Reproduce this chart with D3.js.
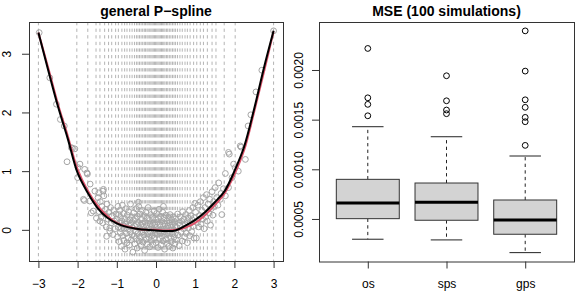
<!DOCTYPE html>
<html>
<head>
<meta charset="utf-8">
<script src="https://cdn.jsdelivr.net/npm/d3@7"></script>
<style>
  body { margin: 0; background: #fff; }
  svg { display: block; font-family: "Liberation Sans", Arial, Helvetica, sans-serif; }
</style>
</head>
<body>
<svg id="chart" width="581" height="291"></svg>
<script>
'use strict'

// ---- left panel data ----
var knots = [-3, -2.02, -1.74, -1.53, -1.43, -1.31, -1.21, -1.13, -1.03, -0.96, -0.87, -0.80, -0.74, -0.67,
    -0.61, -0.55, -0.50, -0.46, -0.42, -0.38, -0.34, -0.30, -0.27, -0.23, -0.20, -0.16, -0.13, -0.10, -0.07,
    -0.04, -0.01, 0.02, 0.05, 0.08, 0.11, 0.14, 0.17, 0.20, 0.23, 0.27, 0.30, 0.34, 0.38, 0.42, 0.46, 0.50,
    0.55, 0.61, 0.67, 0.74, 0.80, 0.87, 0.96, 1.04, 1.13, 1.21, 1.31, 1.43, 1.53, 1.74, 2.02, 3];

var curveX = [-3, -2.75, -2.5, -2.25, -2, -1.75, -1.5, -1.25, -1, -0.75, -0.5, -0.25, 0, 0.25, 0.5, 0.75,
    1, 1.25, 1.5, 1.75, 2, 2.25, 2.5, 2.75, 3];
var trueY = [3.36, 2.76, 2.14, 1.6, 1.03, 0.68, 0.42, 0.24, 0.12, 0.06, 0.02, 0, 0, -0.01, 0, 0.04,
    0.12, 0.25, 0.42, 0.62, 0.94, 1.36, 2.0, 2.68, 3.38];
var fitY = [3.36, 2.72, 2.10, 1.55, 0.97, 0.64, 0.38, 0.21, 0.11, 0.05, 0.02, 0, -0.01, -0.02, -0.01, 0.07,
    0.17, 0.30, 0.47, 0.66, 1.0, 1.42, 2.05, 2.75, 3.39];

var points = [
    [-2.98, 3.36], [-2.71, 2.59], [-2.54, 2.14], [-2.44, 1.88], [-2.34, 1.77], [-2.27, 1.16], [-2.16, 1.40],
    [-2.07, 1.38], [-2.13, 1.39], [-2.0, 0.89], [-1.99, 1.06], [-1.94, 1.12], [-1.82, 1.03], [-1.76, 0.97],
    [-1.75, 0.95], [-1.83, 0.50], [-1.85, 0.52], [-1.69, 0.49], [-1.68, 0.78], [-1.56, 0.66], [-1.46, 0.63],
    [-1.35, 0.66], [-1.34, 0.69], [-1.65, 0.29], [-1.60, 0.32], [-1.52, 0.20], [-1.43, 0.15], [-1.26, -0.11],
    [-1.18, 0.03],
    [-1.48, 0.55], [-1.45, 0.31], [-1.42, 0.48], [-1.40, 0.22], [-1.38, 0.40], [-1.36, 0.12], [-1.33, 0.58],
    [-1.31, 0.27], [-1.29, 0.35], [-1.27, 0.05], [-1.25, 0.44], [-1.22, 0.18], [-1.20, 0.30], [-1.18, -0.02],
    [-1.16, 0.38], [-1.14, 0.12], [-1.12, 0.24], [-1.10, -0.08], [-1.08, 0.33], [-1.06, 0.15], [-1.04, 0.02],
    [-1.02, 0.27],
    [-0.99, 0.18], [-0.98, -0.12], [-0.97, 0.40], [-0.96, 0.05], [-0.95, 0.26], [-0.94, -0.20], [-0.93, 0.12],
    [-0.92, 0.33], [-0.91, -0.05], [-0.90, 0.21], [-0.89, 0.02], [-0.88, -0.28], [-0.87, 0.15], [-0.86, 0.42],
    [-0.85, -0.10], [-0.84, 0.08], [-0.83, 0.28], [-0.82, -0.18], [-0.81, 0.03], [-0.80, 0.19], [-0.79, -0.33],
    [-0.78, 0.10], [-0.77, 0.36], [-0.76, -0.06], [-0.75, 0.14], [-0.74, -0.22], [-0.73, 0.25], [-0.72, 0.01],
    [-0.71, -0.14], [-0.70, 0.31], [-0.69, 0.07], [-0.68, -0.26], [-0.67, 0.17], [-0.66, -0.03], [-0.65, 0.44],
    [-0.64, 0.11], [-0.63, -0.17], [-0.62, 0.22], [-0.61, -0.08], [-0.60, 0.04], [-0.59, -0.38], [-0.58, 0.16],
    [-0.57, 0.29], [-0.56, -0.11], [-0.55, 0.06], [-0.54, -0.24], [-0.53, 0.19], [-0.52, -0.02], [-0.51, 0.36],
    [-0.50, -0.15], [-0.45, 0.47],
    [-0.49, 0.09], [-0.48, -0.31], [-0.47, 0.23], [-0.46, -0.06], [-0.45, 0.13], [-0.44, 0.40], [-0.43, -0.19],
    [-0.42, 0.02], [-0.41, 0.27], [-0.40, -0.12], [-0.39, 0.08], [-0.38, -0.27], [-0.37, 0.18], [-0.36, -0.04],
    [-0.35, 0.33], [-0.34, 0.11], [-0.33, -0.21], [-0.32, 0.05], [-0.31, -0.09], [-0.30, 0.24], [-0.29, -0.35],
    [-0.28, 0.14], [-0.27, -0.01], [-0.26, 0.30], [-0.25, -0.16], [-0.24, 0.07], [-0.23, -0.24], [-0.22, 0.20],
    [-0.21, -0.07], [-0.20, 0.38], [-0.19, 0.03], [-0.18, -0.13], [-0.17, 0.16], [-0.16, -0.29], [-0.15, 0.10],
    [-0.14, -0.03], [-0.13, 0.26], [-0.12, -0.18], [-0.11, 0.06], [-0.10, -0.10], [-0.09, 0.21], [-0.08, -0.25],
    [-0.07, 0.12], [-0.06, 0.00], [-0.05, 0.32], [-0.04, -0.14], [-0.03, 0.09], [-0.02, -0.06], [-0.01, 0.17],
    [0.00, -0.22], [0.01, 0.04], [0.02, 0.28], [0.03, -0.08], [0.04, 0.13], [0.05, -0.30], [0.06, 0.19],
    [0.07, -0.02], [0.08, 0.35], [0.09, -0.15], [0.10, 0.08], [0.11, -0.05], [0.12, 0.23], [0.13, -0.26],
    [0.14, 0.01], [0.15, 0.14], [0.16, -0.11], [0.17, 0.30], [0.18, -0.19], [0.19, 0.06], [0.19, 0.40],
    [0.20, -0.03], [0.21, 0.20], [0.22, -0.33], [0.23, 0.10], [0.24, -0.09], [0.25, 0.25], [0.26, -0.16],
    [0.27, 0.03], [0.28, 0.15], [0.29, -0.23], [0.30, 0.07], [0.31, -0.06], [0.32, 0.21], [0.33, -0.28],
    [0.34, 0.12], [0.35, -0.01], [0.36, 0.26], [0.37, -0.13], [0.38, 0.05], [0.39, -0.20], [0.40, 0.17],
    [0.41, -0.07], [0.42, 0.09], [0.43, -0.31], [0.44, 0.22], [0.45, 0.00], [0.46, -0.12], [0.47, 0.14],
    [0.48, -0.24], [0.49, 0.06],
    [0.50, 0.19], [0.52, -0.17], [0.53, 0.04], [0.55, 0.27], [0.56, -0.09], [0.58, 0.12], [0.59, -0.27],
    [0.61, 0.08], [0.62, 0.22], [0.64, -0.04], [0.65, 0.15], [0.67, -0.19], [0.68, 0.31], [0.70, 0.02],
    [0.71, 0.18], [0.73, -0.12], [0.74, 0.09], [0.76, 0.26], [0.77, -0.06], [0.79, 0.14], [0.80, -0.22],
    [0.82, 0.20], [0.83, 0.03], [0.85, 0.33], [0.86, -0.10], [0.88, 0.11], [0.89, 0.24], [0.91, -0.03],
    [0.92, 0.17], [0.94, 0.38], [0.95, 0.06], [0.97, -0.14], [0.98, 0.21], [0.99, 0.45],
    [1.01, 0.30], [1.03, -0.14], [1.05, 0.12], [1.07, 0.42], [1.09, 0.05], [1.11, 0.24], [1.13, 0.48],
    [1.15, 0.10], [1.17, 0.33], [1.19, 0.18], [1.21, 0.55], [1.23, 0.02], [1.25, 0.38], [1.27, 0.22],
    [1.29, 0.60], [1.31, 0.15], [1.33, 0.44], [1.35, 0.29], [1.37, 0.52], [1.39, 0.08], [1.41, 0.36],
    [1.43, 0.65], [1.45, 0.25], [1.47, 0.48], [1.49, 0.40],
    [1.51, 0.72], [1.55, 0.55], [1.58, 0.42], [1.60, 0.80], [1.64, 0.52], [1.66, 0.62], [1.68, 0.26],
    [1.72, 0.70], [1.77, 0.96], [1.77, 0.58], [1.85, 0.72], [1.85, 1.32], [1.87, 1.29], [1.94, 0.89],
    [1.98, 1.12], [2.02, 1.06], [2.10, 1.00], [2.15, 1.43], [2.17, 1.41], [2.28, 1.20], [2.35, 1.77],
    [2.42, 1.96], [2.55, 2.35], [2.70, 2.72], [3.00, 3.39]
];
var leftXTicks = [-3, -2, -1, 0, 1, 2, 3];
var leftYTicks = [0, 1, 2, 3];

// ---- right panel data ----
var methods = ["os", "sps", "gps"];
var whiskerLow = [0.000296, 0.000289, 0.000161];
var q1 = [0.000503, 0.000487, 0.000346];
var medians = [0.000661, 0.000668, 0.000490];
var q3 = [0.000899, 0.000862, 0.000691];
var whiskerHigh = [0.001429, 0.001328, 0.001134];
var outliers = [
    [0.002217, 0.00172, 0.001654, 0.001539],
    [0.001942, 0.00169, 0.001597, 0.00156],
    [0.002394, 0.001989, 0.0017, 0.001624, 0.001523, 0.001479, 0.001241]
];
var rightYTicks = [0.0005, 0.0010, 0.0015, 0.0020];

var svg = d3.select("#chart");
svg.append("rect").attr("width", 581).attr("height", 291).attr("fill", "#fff");

var frameColor = "#333";

function padded(lo, hi) {
    var p = (hi - lo) * 0.04;
    return [lo - p, hi + p];
}

function styleAxis(g) {
    g.selectAll("path").attr("stroke", frameColor);
    g.selectAll("line").attr("stroke", frameColor);
    g.selectAll("text").attr("fill", "#000").style("font-size", "12px")
        .style("font-family", '"Liberation Sans", Arial, sans-serif');
}

function rotateY(g, off) {
    g.selectAll("text")
        .attr("x", 0).attr("dy", 0)
        .attr("y", -off)
        .attr("transform", "rotate(-90)")
        .attr("text-anchor", "middle");
}

// ================= left panel =================
var L = { x0: 29, x1: 283, y0: 22, y1: 261 };
var xL = d3.scaleLinear().domain(padded(-3, 3)).range([L.x0, L.x1]);
var yExt = d3.extent(points, function (d) { return d[1]; });
var yL = d3.scaleLinear().domain(padded(yExt[0], yExt[1])).range([L.y1, L.y0]);

svg.append("clipPath").attr("id", "clipL")
    .append("rect").attr("x", L.x0).attr("y", L.y0).attr("width", L.x1 - L.x0).attr("height", L.y1 - L.y0);

var left = svg.append("g").attr("clip-path", "url(#clipL)");

left.append("g").selectAll("line")
    .data(knots)
    .enter().append("line")
    .attr("x1", function (d) { return xL(d); })
    .attr("x2", function (d) { return xL(d); })
    .attr("y1", L.y0)
    .attr("y2", L.y1)
    .attr("stroke", "#b4b4b4")
    .attr("stroke-width", 1)
    .attr("stroke-dasharray", "3.3,3.3");

left.append("g").selectAll("circle")
    .data(points)
    .enter().append("circle")
    .attr("cx", function (d) { return xL(d[0]); })
    .attr("cy", function (d) { return yL(d[1]); })
    .attr("r", 2.9)
    .attr("fill", "none")
    .attr("stroke", "#a6a6a6")
    .attr("stroke-width", 1);

var lineGen = function (ys) {
    return d3.line()
        .x(function (d, i) { return xL(curveX[i]); })
        .y(function (d) { return yL(d); })
        .curve(d3.curveCatmullRom.alpha(0.5))(ys);
};

left.append("path").attr("d", lineGen(trueY))
    .attr("fill", "none").attr("stroke", "#DF536B").attr("stroke-width", 2);
left.append("path").attr("d", lineGen(fitY))
    .attr("fill", "none").attr("stroke", "#000").attr("stroke-width", 2);

svg.append("g").attr("transform", "translate(0," + L.y1 + ")")
    .call(d3.axisBottom(xL).tickValues(leftXTicks).tickSize(7).tickSizeOuter(0).tickPadding(11)
        .tickFormat(function (d) { return d < 0 ? "\u2212" + Math.abs(d) : String(d); }))
    .call(styleAxis)
    .call(function (g) { g.select(".domain").remove(); });

svg.append("g").attr("transform", "translate(" + L.x0 + ",0)")
    .call(d3.axisLeft(yL).tickValues(leftYTicks).tickSize(7).tickSizeOuter(0).tickFormat(d3.format("d")))
    .call(styleAxis)
    .call(function (g) { g.select(".domain").remove(); rotateY(g, 18.5); });

svg.append("rect")
    .attr("x", L.x0 + 0.5).attr("y", L.y0 + 0.5)
    .attr("width", L.x1 - L.x0).attr("height", L.y1 - L.y0)
    .attr("fill", "none").attr("stroke", frameColor).attr("stroke-width", 1);

svg.append("text")
    .attr("x", (L.x0 + L.x1) / 2).attr("y", 15.5)
    .attr("text-anchor", "middle")
    .style("font-size", "14px").style("font-weight", "bold")
    .text("general P\u2212spline");

// ================= right panel =================
var R = { x0: 319, x1: 574, y0: 22, y1: 261.5 };
var xR = d3.scaleLinear().domain(padded(0.5, 3.5)).range([R.x0, R.x1]);
var allVals = whiskerLow.concat(whiskerHigh, d3.merge(outliers));
var yR = d3.scaleLinear().domain(padded(d3.min(allVals), d3.max(allVals))).range([R.y1, R.y0]);

var boxW = xR(1.4) - xR(1);
var right = svg.append("g");

methods.forEach(function (m, i) {
    var cx = xR(i + 1);
    var g = right.append("g");
    // whiskers
    g.append("line").attr("x1", cx).attr("x2", cx).attr("y1", yR(q3[i])).attr("y2", yR(whiskerHigh[i]))
        .attr("stroke", "#222").attr("stroke-dasharray", "3.3,3.3");
    g.append("line").attr("x1", cx).attr("x2", cx).attr("y1", yR(q1[i])).attr("y2", yR(whiskerLow[i]))
        .attr("stroke", "#222").attr("stroke-dasharray", "3.3,3.3");
    // staples
    [whiskerHigh[i], whiskerLow[i]].forEach(function (v) {
        g.append("line").attr("x1", cx - boxW / 2).attr("x2", cx + boxW / 2)
            .attr("y1", yR(v)).attr("y2", yR(v)).attr("stroke", "#222");
    });
    // box
    g.append("rect")
        .attr("x", cx - boxW).attr("y", yR(q3[i]))
        .attr("width", boxW * 2).attr("height", yR(q1[i]) - yR(q3[i]))
        .attr("fill", "#D3D3D3").attr("stroke", "#333").attr("stroke-width", 1);
    g.append("line").attr("x1", cx - boxW).attr("x2", cx + boxW)
        .attr("y1", yR(medians[i])).attr("y2", yR(medians[i]))
        .attr("stroke", "#000").attr("stroke-width", 3);
    // outliers
    g.selectAll("circle").data(outliers[i]).enter().append("circle")
        .attr("cx", cx).attr("cy", function (d) { return yR(d); })
        .attr("r", 2.9).attr("fill", "none").attr("stroke", "#000").attr("stroke-width", 1);
});

svg.append("g").attr("transform", "translate(0," + R.y1 + ")")
    .call(d3.axisBottom(xR).tickValues([1, 2, 3]).tickSize(7).tickSizeOuter(0).tickPadding(11)
        .tickFormat(function (d) { return methods[d - 1]; }))
    .call(styleAxis)
    .call(function (g) { g.select(".domain").remove(); });

svg.append("g").attr("transform", "translate(" + R.x0 + ",0)")
    .call(d3.axisLeft(yR).tickValues(rightYTicks).tickSize(7).tickSizeOuter(0)
        .tickFormat(d3.format(".4f")))
    .call(styleAxis)
    .call(function (g) { g.select(".domain").remove(); rotateY(g, 16.5); });

svg.append("rect")
    .attr("x", R.x0 + 0.5).attr("y", R.y0 + 0.5)
    .attr("width", R.x1 - R.x0).attr("height", R.y1 - R.y0)
    .attr("fill", "none").attr("stroke", frameColor).attr("stroke-width", 1);

svg.append("text")
    .attr("x", (R.x0 + R.x1) / 2).attr("y", 15.5)
    .attr("text-anchor", "middle")
    .style("font-size", "14px").style("font-weight", "bold")
    .text("MSE (100 simulations)");
</script>
</body>
</html>
